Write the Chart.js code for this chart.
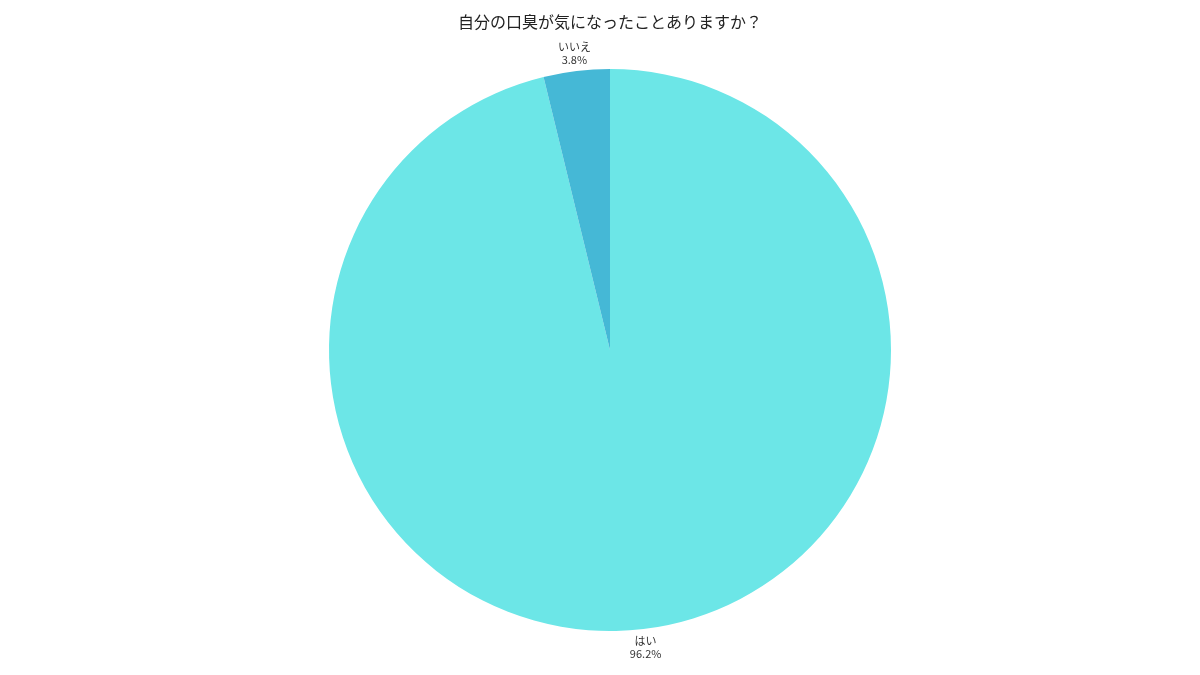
<!DOCTYPE html>
<html><head><meta charset="utf-8">
<script src="https://cdn.jsdelivr.net/npm/chart.js@4"></script>
<style>html,body{margin:0;padding:0;background:#fff}#wrap{width:1200px;height:675px}</style>
</head><body><div id="wrap"><canvas id="c" width="1200" height="675"></canvas></div>
<script>
const titleText = "自分の口臭が気になったことありますか？";
const categories = ["はい", "いいえ"];
const values = [96.2, 3.8];
const percentLabels = ["96.2%", "3.8%"];
const colors = ["#6ce6e7", "#45b8d6"];
const FONT = "'Noto Sans CJK JP', 'Noto Sans', sans-serif";

const labelPlugin = {
  id: 'outLabels',
  afterDraw(chart) {
    const ctx = chart.ctx;
    const meta = chart.getDatasetMeta(0);
    ctx.save();
    ctx.fillStyle = '#222';
    ctx.font = "16px " + FONT;
    ctx.textAlign = 'center';
    ctx.textBaseline = 'middle';
    ctx.fillText(titleText, 610, 22);
    meta.data.forEach((arc, i) => {
      const p = arc.getProps(['x','y','startAngle','endAngle','outerRadius'], true);
      const mid = (p.startAngle + p.endAngle) / 2;
      const r = p.outerRadius + 18;
      const x = p.x + Math.cos(mid) * r;
      const y = p.y + Math.sin(mid) * r;
      ctx.fillStyle = '#333';
      ctx.font = "11px " + FONT;
      ctx.fillText(categories[i], x, y - 6.5);
      ctx.fillText(percentLabels[i], x, y + 6.5);
    });
    ctx.restore();
  }
};

new Chart(document.getElementById('c'), {
  type: 'pie',
  data: { labels: categories, datasets: [{ data: values, backgroundColor: colors, borderWidth: 0 }] },
  options: {
    responsive: false,
    animation: false,
    layout: { padding: { top: 69, bottom: 44, left: 20, right: 0 } },
    plugins: { legend: { display: false }, title: { display: false }, tooltip: { enabled: false } }
  },
  plugins: [labelPlugin]
});
</script></body></html>
